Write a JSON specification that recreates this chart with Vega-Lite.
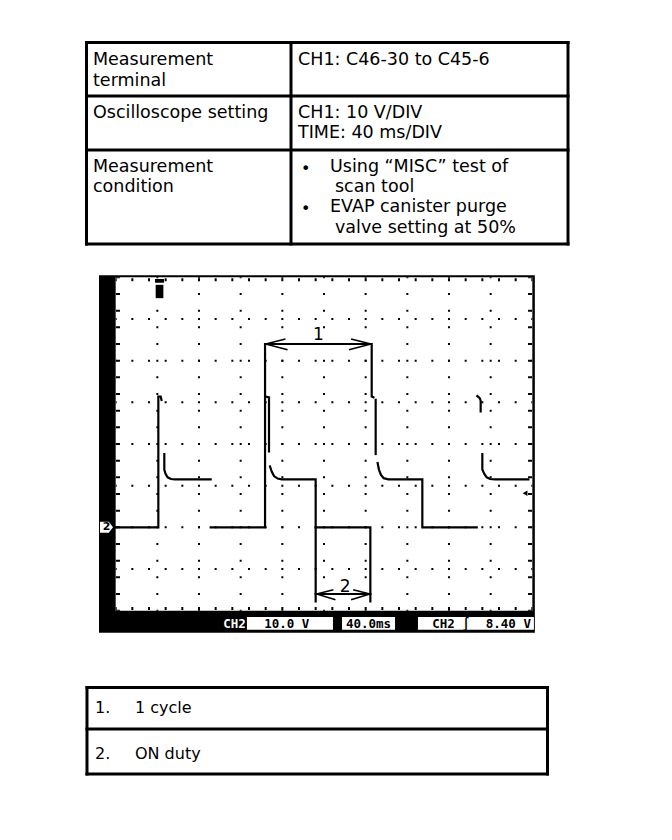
{
  "$schema": "https://vega.github.io/schema/vega-lite/v6.json",
  "padding": 0,
  "spacing": 0,
  "bounds": "flush",
  "background": "white",
  "config": {"view": {"stroke": null}},
  "datasets": {
    "t1lines": [
      {"x": 0, "x2": 100, "y": 0, "y2": 0},
      {"x": 0, "x2": 100, "y": 100, "y2": 100},
      {"x": 0, "x2": 0, "y": 0, "y2": 100},
      {"x": 100, "x2": 100, "y": 0, "y2": 100},
      {"x": 42.47, "x2": 42.47, "y": 0, "y2": 100},
      {"x": 0, "x2": 100, "y": 26.55, "y2": 26.55},
      {"x": 0, "x2": 100, "y": 53.35, "y2": 53.35}
    ],
    "t1text": [
      {"x": 1.35, "y": 11.17, "text": "Measurement"},
      {"x": 1.35, "y": 21.6, "text": "terminal"},
      {"x": 43.93, "y": 11.17, "text": "CH1: C46-30 to C45-6"},
      {"x": 1.35, "y": 37.47, "text": "Oscilloscope setting"},
      {"x": 43.93, "y": 37.47, "text": "CH1: 10 V/DIV"},
      {"x": 43.93, "y": 47.39, "text": "TIME: 40 ms/DIV"},
      {"x": 1.35, "y": 64.27, "text": "Measurement"},
      {"x": 1.35, "y": 74.19, "text": "condition"},
      {"x": 50.57, "y": 64.27, "text": "Using “MISC” test of"},
      {"x": 51.61, "y": 74.19, "text": "scan tool"},
      {"x": 50.57, "y": 84.12, "text": "EVAP canister purge"},
      {"x": 51.61, "y": 94.54, "text": "valve setting at 50%"}
    ],
    "t1bullets": [
      {"x": 44.55, "y": 64.27},
      {"x": 44.55, "y": 84.12}
    ],
    "t2lines": [
      {"x": 0, "x2": 100, "y": 0, "y2": 0},
      {"x": 0, "x2": 100, "y": 100, "y2": 100},
      {"x": 0, "x2": 0, "y": 0, "y2": 100},
      {"x": 100, "x2": 100, "y": 0, "y2": 100},
      {"x": 0, "x2": 100, "y": 47.98, "y2": 47.98}
    ],
    "t2text": [
      {"x": 1.74, "y": 29.83, "text": "1."},
      {"x": 10.42, "y": 29.83, "text": "1 cycle"},
      {"x": 1.74, "y": 83.0, "text": "2."},
      {"x": 10.42, "y": 83.0, "text": "ON duty"}
    ],
    "frame": [{"x": -16, "x2": 402.4, "y": -25.3, "y2": 60.5}],
    "screen": [{"x": 0, "x2": 400, "y": -20, "y2": 60}],
    "grid": [
      {"x": 40, "x2": 40, "y": -20, "y2": 60},
      {"x": 80, "x2": 80, "y": -20, "y2": 60},
      {"x": 120, "x2": 120, "y": -20, "y2": 60},
      {"x": 160, "x2": 160, "y": -20, "y2": 60},
      {"x": 200, "x2": 200, "y": -20, "y2": 60},
      {"x": 240, "x2": 240, "y": -20, "y2": 60},
      {"x": 280, "x2": 280, "y": -20, "y2": 60},
      {"x": 320, "x2": 320, "y": -20, "y2": 60},
      {"x": 360, "x2": 360, "y": -20, "y2": 60},
      {"x": 0, "x2": 400, "y": -10, "y2": -10},
      {"x": 0, "x2": 400, "y": 0, "y2": 0},
      {"x": 0, "x2": 400, "y": 10, "y2": 10},
      {"x": 0, "x2": 400, "y": 20, "y2": 20},
      {"x": 0, "x2": 400, "y": 30, "y2": 30},
      {"x": 0, "x2": 400, "y": 40, "y2": 40},
      {"x": 0, "x2": 400, "y": 50, "y2": 50}
    ],
    "edgev": [
      {"x": 2.2, "x2": 2.2, "y": -20, "y2": 60},
      {"x": 397.8, "x2": 397.8, "y": -20, "y2": 60}
    ],
    "edgeh": [
      {"x": 0, "x2": 400, "y": 59.4, "y2": 59.4},
      {"x": 0, "x2": 400, "y": -19.5, "y2": -19.5}
    ],
    "trace": [
      {"seg": "A", "i": 0, "x": 0, "y": 0},
      {"seg": "A", "i": 1, "x": 40.96, "y": 0},
      {"seg": "A", "i": 2, "x": 40.96, "y": 31.4},
      {"seg": "A", "i": 3, "x": 43.2, "y": 31.4},
      {"seg": "A", "i": 4, "x": 44, "y": 30.6},
      {"seg": "B", "i": 5, "x": 46.7, "y": 17.6},
      {"seg": "B", "i": 6, "x": 46.7, "y": 13.8},
      {"seg": "B", "i": 7, "x": 48, "y": 12.8},
      {"seg": "B", "i": 8, "x": 49.9, "y": 12.0},
      {"seg": "B", "i": 9, "x": 53, "y": 11.6},
      {"seg": "B", "i": 10, "x": 57, "y": 11.5},
      {"seg": "B", "i": 11, "x": 91.2, "y": 11.5},
      {"seg": "C", "i": 12, "x": 91.2, "y": 0},
      {"seg": "C", "i": 13, "x": 143.4, "y": 0},
      {"seg": "C", "i": 14, "x": 143.4, "y": 44},
      {"seg": "C", "i": 15, "x": 245.8, "y": 44},
      {"seg": "C", "i": 16, "x": 245.8, "y": 31.4},
      {"seg": "C", "i": 17, "x": 247.5, "y": 31.2},
      {"seg": "D", "i": 18, "x": 143.8, "y": 31.4},
      {"seg": "D", "i": 19, "x": 147.2, "y": 31.2},
      {"seg": "D", "i": 20, "x": 147.2, "y": 18.2},
      {"seg": "E", "i": 21, "x": 148.2, "y": 14.6},
      {"seg": "E", "i": 22, "x": 149.8, "y": 13.4},
      {"seg": "E", "i": 23, "x": 152, "y": 12.3},
      {"seg": "E", "i": 24, "x": 155.5, "y": 11.7},
      {"seg": "E", "i": 25, "x": 159.4, "y": 11.5},
      {"seg": "E", "i": 26, "x": 192, "y": 11.5},
      {"seg": "E", "i": 27, "x": 192, "y": -17.8},
      {"seg": "F", "i": 28, "x": 192, "y": 0},
      {"seg": "F", "i": 29, "x": 244.5, "y": 0},
      {"seg": "F", "i": 30, "x": 244.5, "y": -17.8},
      {"seg": "G", "i": 31, "x": 249.6, "y": 30.6},
      {"seg": "G", "i": 32, "x": 249.6, "y": 17.6},
      {"seg": "H", "i": 33, "x": 251.5, "y": 15.4},
      {"seg": "H", "i": 34, "x": 252.8, "y": 13.8},
      {"seg": "H", "i": 35, "x": 254.7, "y": 12.6},
      {"seg": "H", "i": 36, "x": 257.3, "y": 11.8},
      {"seg": "H", "i": 37, "x": 261.8, "y": 11.5},
      {"seg": "H", "i": 38, "x": 294.4, "y": 11.5},
      {"seg": "H", "i": 39, "x": 294.4, "y": 0},
      {"seg": "H", "i": 40, "x": 346.6, "y": 0},
      {"seg": "I", "i": 41, "x": 347.2, "y": 31.5},
      {"seg": "I", "i": 42, "x": 349.5, "y": 31.0},
      {"seg": "I", "i": 43, "x": 350.4, "y": 30.4},
      {"seg": "I", "i": 44, "x": 350.4, "y": 27.8},
      {"seg": "J", "i": 45, "x": 352, "y": 17.6},
      {"seg": "J", "i": 46, "x": 352, "y": 13.9},
      {"seg": "J", "i": 47, "x": 353.9, "y": 12.8},
      {"seg": "J", "i": 48, "x": 356.2, "y": 12.0},
      {"seg": "J", "i": 49, "x": 359.4, "y": 11.6},
      {"seg": "J", "i": 50, "x": 364.2, "y": 11.5},
      {"seg": "J", "i": 51, "x": 396.2, "y": 11.5},
      {"seg": "K", "i": 52, "x": 192, "y": -16},
      {"seg": "K", "i": 53, "x": 244.5, "y": -16}
    ],
    "arrows": [
      {"x": 144, "y": 44, "x2": 163, "y2": 45.2},
      {"x": 144, "y": 44, "x2": 165, "y2": 42.6},
      {"x": 245, "y": 44, "x2": 226, "y2": 45.2},
      {"x": 245, "y": 44, "x2": 224, "y2": 42.6},
      {"x": 193, "y": -16, "x2": 209, "y2": -15},
      {"x": 193, "y": -16, "x2": 211, "y2": -17.4},
      {"x": 244, "y": -16, "x2": 228, "y2": -15},
      {"x": 244, "y": -16, "x2": 226, "y2": -17.4}
    ],
    "labels": [
      {"x": 194.6, "y": 45, "text": "1"},
      {"x": 220.2, "y": -15.4, "text": "2"}
    ],
    "tmark": [
      {"x": 37.8, "x2": 46.4, "y": 58.7, "y2": 59.6},
      {"x": 38.4, "x2": 45.8, "y": 55.0, "y2": 58.2}
    ],
    "gnd": [{"x": -8.8, "y": 0, "text": "2"}],
    "trig": [{"x": 393, "y": 8.2}],
    "sbox": [
      {"x": 126, "x2": 208.6, "y": -21.5, "y2": -24.6},
      {"x": 217.3, "x2": 268.2, "y": -21.5, "y2": -24.6},
      {"x": 290.2, "x2": 401.5, "y": -21.5, "y2": -24.6}
    ],
    "stext": [
      {"x": 164.3, "y": -23.1, "text": "10.0 V"},
      {"x": 242.7, "y": -23.1, "text": "40.0ms"},
      {"x": 321.9, "y": -23.1, "text": "CH2 ∫"},
      {"x": 377, "y": -23.1, "text": "8.40 V"}
    ],
    "swhite": [{"x": 114.1, "y": -23.1, "text": "CH2"}]
  },
  "vconcat": [
    {
      "width": 672,
      "height": 260,
      "encoding": {
        "x": {"field": "x", "type": "quantitative", "scale": {"domain": [-17.965, 121.599], "nice": false, "zero": false}, "axis": null},
        "y": {"field": "y", "type": "quantitative", "scale": {"domain": [-21.092, 107.94], "nice": false, "zero": false, "reverse": true}, "axis": null}
      },
      "layer": [
        {"data": {"name": "t1lines"}, "mark": {"type": "rule", "color": "black", "strokeWidth": 3, "strokeCap": "square"}, "encoding": {"x2": {"field": "x2"}, "y2": {"field": "y2"}}},
        {"data": {"name": "t1text"}, "mark": {"type": "text", "align": "left", "baseline": "alphabetic", "font": "DejaVu Sans", "fontSize": 17.5, "color": "black"}, "encoding": {"text": {"field": "text"}}},
        {"data": {"name": "t1bullets"}, "mark": {"type": "text", "text": "•", "align": "left", "baseline": "alphabetic", "font": "DejaVu Sans", "fontSize": 16, "color": "black", "dy": 2}}
      ]
    },
    {
      "width": 672,
      "height": 400,
      "encoding": {
        "x": {"field": "x", "type": "quantitative", "scale": {"domain": [-111.04, 534.08], "nice": false, "zero": false}, "axis": null},
        "y": {"field": "y", "type": "quantitative", "scale": {"domain": [-31.84, 64.16], "nice": false, "zero": false}, "axis": null}
      },
      "layer": [
        {"data": {"name": "frame"}, "mark": {"type": "rect", "color": "black"}, "encoding": {"x2": {"field": "x2"}, "y2": {"field": "y2"}}},
        {"data": {"name": "screen"}, "mark": {"type": "rect", "color": "white"}, "encoding": {"x2": {"field": "x2"}, "y2": {"field": "y2"}}},
        {"data": {"name": "grid"}, "mark": {"type": "rule", "color": "black", "strokeWidth": 2, "strokeDash": [2, 14.667], "strokeDashOffset": 1}, "encoding": {"x2": {"field": "x2"}, "y2": {"field": "y2"}}},
        {"data": {"name": "edgev"}, "mark": {"type": "rule", "color": "black", "strokeWidth": 4, "strokeDash": [2, 14.667], "strokeDashOffset": 1}, "encoding": {"x2": {"field": "x2"}, "y2": {"field": "y2"}}},
        {"data": {"name": "edgeh"}, "mark": {"type": "rule", "color": "black", "strokeWidth": 3, "strokeDash": [2, 14.667], "strokeDashOffset": 1}, "encoding": {"x2": {"field": "x2"}, "y2": {"field": "y2"}}},
        {"data": {"name": "trace"}, "mark": {"type": "line", "color": "black", "strokeWidth": 2.2, "strokeCap": "square", "strokeJoin": "miter"}, "encoding": {"detail": {"field": "seg"}, "order": {"field": "i"}}},
        {"data": {"name": "arrows"}, "mark": {"type": "rule", "color": "black", "strokeWidth": 1.5}, "encoding": {"x2": {"field": "x2"}, "y2": {"field": "y2"}}},
        {"data": {"name": "labels"}, "mark": {"type": "text", "align": "center", "baseline": "alphabetic", "font": "DejaVu Sans", "fontSize": 17, "color": "black"}, "encoding": {"text": {"field": "text"}}},
        {"data": {"name": "tmark"}, "mark": {"type": "rect", "color": "black"}, "encoding": {"x2": {"field": "x2"}, "y2": {"field": "y2"}}},
        {"data": {"name": "gnd"}, "mark": {"type": "point", "shape": "M-1,-0.85L0.35,-0.85L1,0L0.35,0.85L-1,0.85Z", "size": 169, "filled": true, "color": "white", "opacity": 1}},
        {"data": {"name": "gnd"}, "mark": {"type": "text", "align": "center", "baseline": "middle", "font": "DejaVu Sans", "fontWeight": "bold", "fontSize": 11, "color": "black"}, "encoding": {"text": {"field": "text"}}},
        {"data": {"name": "trig"}, "mark": {"type": "point", "shape": "triangle-left", "size": 30, "filled": true, "color": "black", "opacity": 1}},
        {"data": {"name": "sbox"}, "mark": {"type": "rect", "color": "white"}, "encoding": {"x2": {"field": "x2"}, "y2": {"field": "y2"}}},
        {"data": {"name": "stext"}, "mark": {"type": "text", "align": "center", "baseline": "middle", "font": "DejaVu Sans Mono", "fontWeight": "bold", "fontSize": 12.5, "color": "black"}, "encoding": {"text": {"field": "text"}}},
        {"data": {"name": "swhite"}, "mark": {"type": "text", "align": "center", "baseline": "middle", "font": "DejaVu Sans Mono", "fontWeight": "bold", "fontSize": 12.5, "color": "white"}, "encoding": {"text": {"field": "text"}}}
      ]
    },
    {
      "width": 672,
      "height": 180,
      "encoding": {
        "x": {"field": "x", "type": "quantitative", "scale": {"domain": [-18.89, 127.04], "nice": false, "zero": false}, "axis": null},
        "y": {"field": "y", "type": "quantitative", "scale": {"domain": [-31.79, 176.3], "nice": false, "zero": false, "reverse": true}, "axis": null}
      },
      "layer": [
        {"data": {"name": "t2lines"}, "mark": {"type": "rule", "color": "black", "strokeWidth": 3, "strokeCap": "square"}, "encoding": {"x2": {"field": "x2"}, "y2": {"field": "y2"}}},
        {"data": {"name": "t2text"}, "mark": {"type": "text", "align": "left", "baseline": "alphabetic", "font": "DejaVu Sans", "fontSize": 16, "color": "black"}, "encoding": {"text": {"field": "text"}}}
      ]
    }
  ]
}
